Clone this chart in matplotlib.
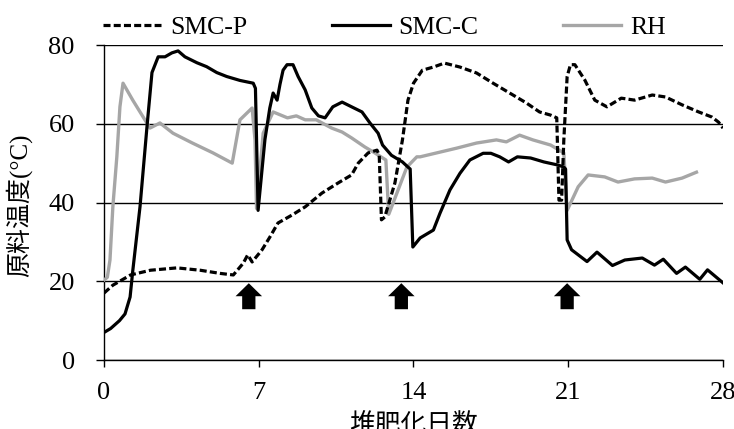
import matplotlib
matplotlib.use("Agg")
import matplotlib.pyplot as plt
from matplotlib.patches import FancyArrow

plt.rcParams['font.family'] = ['Liberation Serif', 'Noto Sans CJK JP']

# SMC-P (dashed)
smcp_day = [0, 0.4, 1.2, 2.1, 3.3, 4.35, 5.25, 5.85, 6.3, 6.5, 6.7, 7.15, 7.5, 7.87, 8.5,
            9.1, 9.86, 10.6, 11.2, 11.5, 11.95, 12.35, 12.45, 12.55, 12.7, 13.16, 13.5, 13.75,
            14.0, 14.4, 14.9, 15.4, 16.1, 16.85, 17.6, 18.35, 19.1, 19.7, 20.2, 20.48, 20.58,
            20.7, 20.8, 20.95, 21.1, 21.3, 21.75, 22.2, 22.75, 23.4, 24.0, 24.8, 25.4, 26.15,
            26.9, 27.5, 27.8, 28.0]
smcp_temp = [17, 19, 21.6, 22.8, 23.4, 22.8, 22, 21.6, 24.6, 26.7, 24.9, 28, 31.2, 34.8, 36.8,
             38.9, 42.4, 45, 47, 50, 52.6, 53.3, 52, 35.6, 36.3, 45.0, 55.9, 66,
             70.3, 73.6, 74.4, 75.4, 74.4, 72.9, 70.3, 67.8, 65.3, 63, 62.2, 61.5, 40.6,
             40.6, 55.9, 72, 75, 75, 71.1, 66, 64.3, 66.5, 66, 67.3, 66.8, 64.8,
             63, 61.7, 60.4, 58.9]

# SMC-C (solid black)
smcc_day = [0, 0.3, 0.7, 0.95, 1.18, 1.3, 1.63, 1.94, 2.17, 2.45, 2.76, 3.07, 3.35, 3.66,
            4.2, 4.64, 5.1, 5.55, 6.15, 6.75, 6.85, 6.97, 7.28, 7.5, 7.65, 7.83, 7.96, 8.1,
            8.28, 8.55, 8.78, 9.1, 9.4, 9.7, 10.0, 10.35, 10.77, 11.2, 11.67, 12.03, 12.4,
            12.6, 13.0, 13.5, 13.75, 13.85, 13.97, 14.3, 14.9, 15.2, 15.65, 16.1, 16.55,
            17.15, 17.5, 17.9, 18.3, 18.7, 19.3, 19.9, 20.55, 20.8, 20.88, 20.95, 21.15,
            21.85, 22.3, 23.0, 23.56, 24.35, 24.9, 25.3, 25.9, 26.3, 26.95, 27.3, 28.0]
smcc_temp = [7, 8, 10, 11.7, 16, 22.6, 39, 59, 73, 77, 77, 78, 78.5, 77,
             75.5, 74.5, 73, 72, 71, 70.3, 69, 38, 56, 64, 67.8, 66, 70, 73.6,
             75, 75, 72, 68.6, 64, 62, 61.5, 64.3, 65.5, 64.3, 63, 60.2, 57.6,
             54.6, 52, 50.3, 49, 48.5, 28.7, 31, 33, 37.3, 43.2, 47.4, 50.8,
             52.5, 52.5, 51.6, 50.3, 51.6, 51.3, 50.3, 49.5, 49, 48.5, 30.5, 28,
             25, 27.4, 24, 25.4, 25.9, 24.1, 25.6, 22, 23.6, 20.5, 22.9, 19.6]

# RH (gray)
rh_day = [0, 0.15, 0.27, 0.4, 0.58, 0.72, 0.86, 1.3, 2.08, 2.53, 3.12, 4.0, 4.93, 5.8,
          6.15, 6.7, 6.83, 6.9, 7.2, 7.65, 8.3, 8.7, 9.1, 9.6, 10.3, 10.77, 11.2, 11.8,
          12.25, 12.75, 12.88, 13.25, 13.7, 14.15, 14.3, 15.05, 15.95, 16.85, 17.75, 18.2,
          18.8, 19.4, 20.2, 20.8, 20.95, 21.45, 21.9, 22.65, 23.25, 24.0, 24.8, 25.4,
          26.15, 26.8]
rh_temp = [20.3, 21, 25.4, 38.9, 51.6, 64.3, 70.3, 66, 58.9, 60.2, 57.6, 55.1, 52.6, 50,
           61, 64, 55.9, 38.5, 57.6, 63, 61.5, 62, 61, 61, 58.9, 57.9, 56.4, 54.1,
           52.6, 50.8, 37, 42.4, 49, 51.6, 51.6, 52.6, 53.8, 55.1, 55.9, 55.4,
           57.1, 55.9, 54.6, 52.6, 38, 44, 47, 46.5, 45.2, 46, 46.2, 45.2,
           46.2, 47.7]

# turning days (arrows)
arrow_days = [6.55, 13.45, 20.95]

fig = plt.figure(figsize=(7.34, 4.29), dpi=100)
ax = fig.add_axes([0.1417, 0.1608, 0.8433, 0.7343])

ax.plot(rh_day, rh_temp, color='#a6a6a6', lw=2.4, label='RH', zorder=3)
ax.plot(smcp_day, smcp_temp, color='black', lw=2.3, linestyle=(0, (2.2, 1.0)),
        label='SMC-P', zorder=4)
ax.plot(smcc_day, smcc_temp, color='black', lw=2.3, label='SMC-C', zorder=4)

for d in arrow_days:
    ax.add_patch(FancyArrow(d, 12.9, 0, 6.6, width=0.6, head_width=1.2, head_length=3.3,
                            length_includes_head=True, color='black', lw=0, zorder=5))

ax.set_xlim(0, 28)
ax.set_ylim(0, 80)
ax.set_xticks([0, 7, 14, 21, 28])
ax.set_yticks([0, 20, 40, 60, 80])
ax.grid(axis='y', color='black', lw=1.0)
ax.set_axisbelow(True)
for s in ['top', 'right']:
    ax.spines[s].set_visible(False)
ax.spines['left'].set_linewidth(1.0)
ax.spines['bottom'].set_linewidth(1.0)
ax.tick_params(axis='x', direction='out', length=5, width=1.0, labelsize=19, pad=11)
ax.tick_params(axis='y', direction='out', length=6, width=1.0, labelsize=19, pad=15)

ax.set_ylabel('原料温度(°C)', fontsize=18)
ax.yaxis.set_label_coords(-0.116, 0.492)
ax.set_xlabel('堆肥化日数', fontsize=18.5)
ax.xaxis.set_label_coords(0.5, -0.171)

h, l = ax.get_legend_handles_labels()
order = [1, 2, 0]
fig.legend([h[i] for i in order], [l[i] for i in order], ncol=3, frameon=False,
           loc='center left', bbox_to_anchor=(103 / 734, 1 - 28 / 429), fontsize=18.5,
           borderpad=0, borderaxespad=0, handlelength=2.25, handletextpad=0.35,
           columnspacing=3.3)

fig.savefig('out.png', dpi=100)
